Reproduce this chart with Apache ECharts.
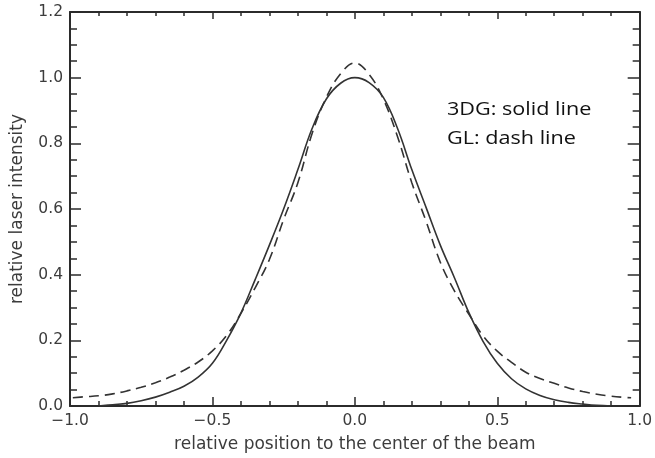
<!DOCTYPE html>
<html>
<head>
<meta charset="utf-8">
<script src="https://cdn.jsdelivr.net/npm/echarts@6/dist/echarts.min.js"></script>
<style>
  html, body { margin: 0; padding: 0; background: #fff; }
  #chart { width: 655px; height: 458px; }
</style>
</head>
<body>
<div id="chart"></div>
<script>
// Beam profile: relative laser intensity across the beam
const positions3DG = [-0.90, -0.85, -0.80, -0.75, -0.70, -0.65, -0.60, -0.55, -0.50, -0.45,
  -0.40, -0.35, -0.30, -0.25, -0.20, -0.15, -0.10, -0.05, 0.00, 0.05, 0.10, 0.15, 0.20,
  0.25, 0.30, 0.35, 0.40, 0.45, 0.50, 0.55, 0.60, 0.65, 0.70, 0.75, 0.80, 0.85, 0.90];
const intensity3DG = [0.000, 0.004, 0.008, 0.016, 0.027, 0.042, 0.060, 0.088, 0.130, 0.200,
  0.283, 0.385, 0.490, 0.600, 0.720, 0.845, 0.935, 0.983, 1.000, 0.985, 0.940, 0.845, 0.720,
  0.605, 0.490, 0.390, 0.285, 0.197, 0.130, 0.083, 0.052, 0.032, 0.019, 0.011, 0.006, 0.002, 0.000];

const positionsGL = [-0.99, -0.95, -0.90, -0.85, -0.80, -0.75, -0.70, -0.65, -0.60, -0.55,
  -0.50, -0.45, -0.40, -0.35, -0.30, -0.25, -0.20, -0.15, -0.10, -0.05, 0.00, 0.05, 0.10,
  0.15, 0.20, 0.25, 0.30, 0.35, 0.40, 0.45, 0.50, 0.55, 0.60, 0.65, 0.70, 0.75, 0.80,
  0.85, 0.90, 0.95, 0.97];
const intensityGL = [0.025, 0.028, 0.031, 0.037, 0.046, 0.057, 0.071, 0.088, 0.109, 0.134,
  0.168, 0.215, 0.282, 0.360, 0.446, 0.568, 0.680, 0.830, 0.940, 1.012, 1.045, 1.010, 0.935,
  0.820, 0.680, 0.563, 0.438, 0.350, 0.280, 0.214, 0.167, 0.133, 0.103, 0.084, 0.069, 0.055, 0.044,
  0.036, 0.030, 0.026, 0.025];

const xTicks = { min: -1.0, max: 1.0, interval: 0.5 };
const yTicks = { min: 0.0, max: 1.2, interval: 0.2 };

const legendLines = ['3DG: solid line', 'GL: dash line'];
const xTitle = 'relative position to the center of the beam';
const yTitle = 'relative laser intensity';

const toPairs = (xs, ys) => xs.map((x, i) => [x, ys[i]]);

const ink = '#2b2b2b';
const textGrey = '#3c3c3c';
const plotFont = 'DejaVu Sans, Liberation Sans, sans-serif';
const labelFont = { color: textGrey, fontFamily: plotFont, fontSize: 15.5 };
const titleFont = { color: textGrey, fontFamily: plotFont, fontSize: 17 };

function frameAxis(extra) {
  return Object.assign({
    type: 'value',
    axisLine: { show: true, onZero: false, lineStyle: { color: ink, width: 2 } },
    splitLine: { show: false }
  }, extra);
}

const chart = echarts.init(document.getElementById('chart'), null, { renderer: 'canvas' });
chart.setOption({
  backgroundColor: '#ffffff',
  animation: false,
  grid: { left: 70, right: 13, top: 12, bottom: 47, containLabel: false },
  xAxis: [
    frameAxis({
      position: 'bottom', min: xTicks.min, max: xTicks.max, interval: xTicks.interval,
      axisTick: { show: true, inside: true, length: 9, lineStyle: { color: ink, width: 1.5 } },
      minorTick: { show: true, splitNumber: 5, length: 5, lineStyle: { color: ink, width: 1.5 } },
      axisLabel: Object.assign({ margin: 7, formatter: v => (v < 0 ? '\u2212' : '') + Math.abs(v).toFixed(1) }, labelFont),
      name: xTitle, nameLocation: 'middle', nameGap: 30,
      nameTextStyle: titleFont
    }),
    frameAxis({
      position: 'top', min: xTicks.min, max: xTicks.max, interval: xTicks.interval,
      axisTick: { show: true, inside: true, length: 7, lineStyle: { color: ink, width: 1.5 } },
      minorTick: { show: true, splitNumber: 5, length: 4, lineStyle: { color: ink, width: 1.5 } },
      axisLabel: { show: false }
    })
  ],
  yAxis: [
    frameAxis({
      position: 'left', min: yTicks.min, max: yTicks.max, interval: yTicks.interval,
      axisTick: { show: true, inside: true, length: 11, lineStyle: { color: ink, width: 1.5 } },
      minorTick: { show: true, splitNumber: 4, length: 7, lineStyle: { color: ink, width: 1.5 } },
      axisLabel: Object.assign({ margin: 7, formatter: v => v.toFixed(1) }, labelFont),
      name: yTitle, nameLocation: 'middle', nameGap: 44, nameRotate: 90,
      nameTextStyle: titleFont
    }),
    frameAxis({
      position: 'right', min: yTicks.min, max: yTicks.max, interval: yTicks.interval,
      axisTick: { show: true, inside: true, length: 12, lineStyle: { color: ink, width: 1.5 } },
      minorTick: { show: true, splitNumber: 4, length: 7, lineStyle: { color: ink, width: 1.5 } },
      axisLabel: { show: false }
    })
  ],
  series: [
    {
      name: '3DG', type: 'line', xAxisIndex: 0, yAxisIndex: 0,
      data: toPairs(positions3DG, intensity3DG),
      smooth: 0.4, showSymbol: false,
      lineStyle: { color: '#333', width: 1.6 }
    },
    {
      name: 'GL', type: 'line', xAxisIndex: 0, yAxisIndex: 0,
      data: toPairs(positionsGL, intensityGL),
      smooth: 0.4, showSymbol: false,
      lineStyle: { color: '#333', width: 1.6, type: [10, 6] }
    }
  ],
  graphic: [
    {
      type: 'text', x: 447, y: 101, scaleX: 1.2,
      style: { text: legendLines[0], fill: '#111', font: '18px "Open Sans", sans-serif' }
    },
    {
      type: 'text', x: 447, y: 130, scaleX: 1.2,
      style: { text: legendLines[1], fill: '#111', font: '18px "Open Sans", sans-serif' }
    }
  ]
});
</script>
</body>
</html>
